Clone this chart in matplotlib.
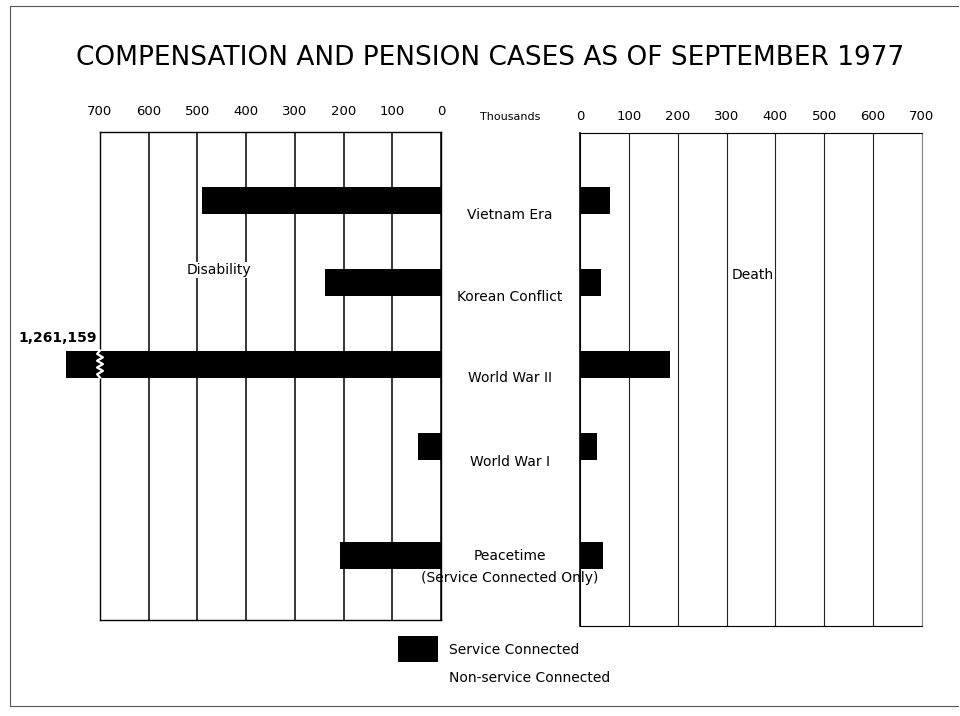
import numpy as np
import matplotlib.pyplot as plt
from matplotlib.patches import Rectangle
from matplotlib.lines import Line2D

# Cases in thousands, as of September 1977
categories = ["Vietnam Era", "Korean Conflict", "World War II", "World War I", "Peacetime"]
disability = [490, 238, 1261.159, 47, 207]
death = [61, 43, 185, 35, 47]
ticks = [0, 100, 200, 300, 400, 500, 600, 700]
AXMAX = 700

W, H = 960, 716


def box(x0, y0, x1, y1):
    # pixel box (top-left origin) -> figure fraction rect
    return [x0 / W, 1 - y1 / H, (x1 - x0) / W, (y1 - y0) / H]


fig = plt.figure(figsize=(W / 100, H / 100), dpi=100)
plt.rcParams["font.family"] = "DejaVu Sans"

# row positions (peacetime row sits a bit lower)
pos = np.array([0, 1, 2, 3, 4.33])
bar_h = 0.33

axL = fig.add_axes(box(100, 132, 441, 620))
axR = fig.add_axes(box(580, 133, 922, 626))

for ax in (axL, axR):
    ax.set_ylim(5.12, -0.83)
    ax.set_xticks(ticks)
    ax.set_yticks([])
    ax.xaxis.tick_top()
    ax.tick_params(axis="x", length=0, labelsize=9.5, pad=10)
    ax.set_axisbelow(True)

axL.grid(axis="x", color="black", linewidth=1.1)
for s in axL.spines.values():
    s.set_linewidth(1.0)
axR.grid(axis="x", color="#222222", linewidth=0.8)
for s in axR.spines.values():
    s.set_linewidth(0.8)
axR.spines["left"].set_linewidth(1.2)
axR.spines["right"].set_color("#888888")

axL.set_xlim(AXMAX, 0)
axR.set_xlim(0, AXMAX)
axR.set_ylim(5.19, -0.83)
axR.tick_params(axis="x", pad=7)

# disability bars, clipped at the axis max with a break
shown = np.minimum(disability, AXMAX)
axL.barh(pos, shown, height=bar_h, color="black", zorder=3)
for p, v in zip(pos, disability):
    if v > AXMAX:
        axL.barh(p, 70, left=AXMAX, height=bar_h, color="black",
                 clip_on=False, zorder=3)
        zy = np.linspace(p - bar_h / 2, p + bar_h / 2, 9)
        zx = AXMAX + np.array([0, 6, -6, 6, -6, 6, -6, 6, 0])
        axL.plot(zx, zy, color="white", linewidth=1.6, clip_on=False, zorder=4)
        axL.text(AXMAX + 87, p - bar_h / 2 - 0.07, f"{int(round(v * 1000)):,}",
                 ha="center", va="bottom", fontsize=10, fontweight="bold",
                 clip_on=False)

axR.barh(pos, death, height=bar_h, color="black", zorder=3)

axL.text(0.35, 0.717, "Disability", transform=axL.transAxes, ha="center",
         va="center", fontsize=10,
         bbox=dict(facecolor="white", edgecolor="none", pad=1))
axR.text(0.505, 0.712, "Death", transform=axR.transAxes, ha="center",
         va="center", fontsize=10,
         bbox=dict(facecolor="white", edgecolor="none", pad=1))

# category labels in the middle column
label_y = [215, 297, 378, 462, 556]
for name, y in zip(categories, label_y):
    fig.text(510 / W, 1 - y / H, name, ha="center", va="center", fontsize=10)
fig.text(510 / W, 1 - 578 / H, "(Service Connected Only)", ha="center",
         va="center", fontsize=10)
fig.text(510 / W, 1 - 117 / H, "Thousands", ha="center", va="center",
         fontsize=8)

# title
fig.text(490 / W, 1 - 58 / H, "COMPENSATION AND PENSION CASES AS OF SEPTEMBER 1977",
         ha="center", va="center", fontsize=19)

# legend
fig.patches.append(Rectangle((398 / W, 1 - 662 / H), 40 / W, 26 / H,
                             transform=fig.transFigure, facecolor="black",
                             edgecolor="none"))
fig.text(449 / W, 1 - 650 / H, "Service Connected", ha="left", va="center",
         fontsize=10)
fig.text(449 / W, 1 - 678 / H, "Non-service Connected", ha="left",
         va="center", fontsize=10)

# scanned page frame
for xs, ys in [([10, 10], [6, 706]), ([10, 958], [706, 706]), ([10, 958], [6, 6])]:
    fig.lines.append(Line2D(np.array(xs) / W, 1 - np.array(ys) / H,
                            transform=fig.transFigure, color="#555555",
                            linewidth=0.8))

fig.savefig("out.png", dpi=100)
